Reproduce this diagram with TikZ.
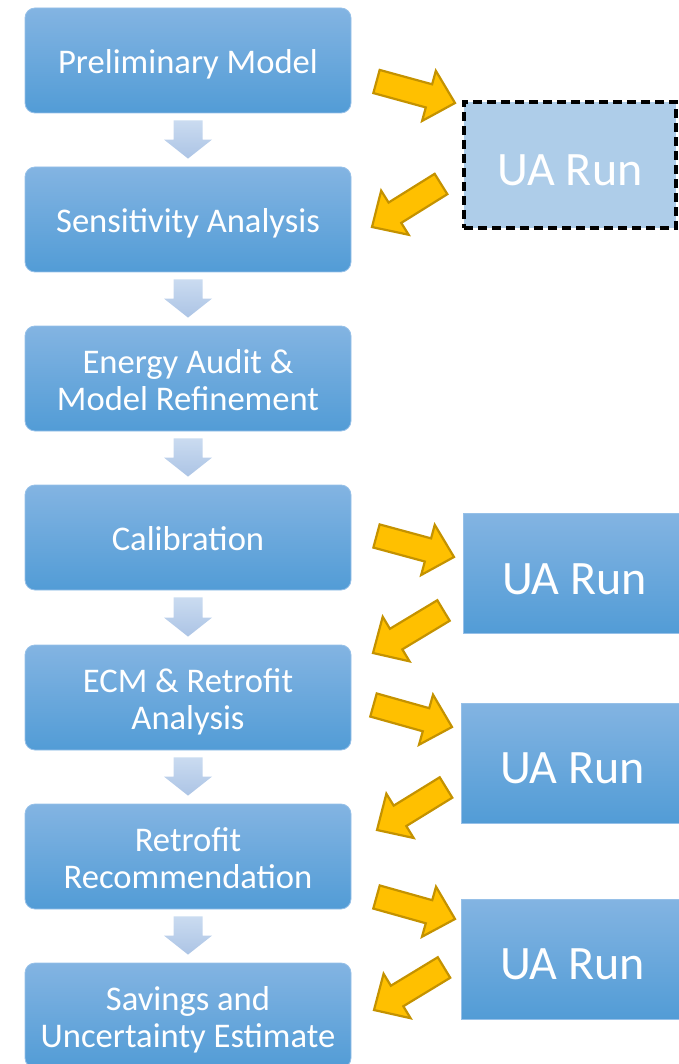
\documentclass[tikz,border=0pt]{standalone}
\usepackage{fontspec}
\setmainfont{Carlito}
\usetikzlibrary{calc}
\definecolor{boxtop}{RGB}{131,180,226}
\definecolor{boxbot}{RGB}{82,156,214}
\definecolor{boxline}{RGB}{150,192,232}
\definecolor{uafill}{RGB}{174,205,233}
\definecolor{darrtop}{RGB}{202,219,240}
\definecolor{darrbot}{RGB}{172,196,229}
\definecolor{yfill}{RGB}{255,192,0}
\definecolor{yline}{RGB}{196,146,0}
\newcommand{\yarrow}[2]{%
  \coordinate (#1-base) at ($(#2)!27pt!(#1)$);
  \draw[yarr] ($(#1)!12pt!90:(#2)$) -- ($(#1-base)!12pt!90:(#2)$) -- ($(#1-base)!26pt!90:(#2)$) -- (#2)
    -- ($(#1-base)!26pt!-90:(#2)$) -- ($(#1-base)!12pt!-90:(#2)$) -- ($(#1)!12pt!-90:(#2)$) -- cycle;}
\newcommand{\downarr}[2]{%
  \path[downarr] let \p1=(#1.south), \p2=(#2.north) in
   (\x1-14.5pt,\y1-7pt) -- (\x1+14.5pt,\y1-7pt) -- (\x1+14.5pt,\y2+27pt) -- (\x1+24pt,\y2+27pt)
   -- (\x1,\y2+8pt) -- (\x1-24pt,\y2+27pt) -- (\x1-14.5pt,\y2+27pt) -- cycle;}
\begin{document}
\begin{tikzpicture}[x=1pt,y=-1pt,
  stepbox/.style={rectangle, rounded corners=10pt, minimum width=326pt, minimum height=105pt,
    top color=boxtop, bottom color=boxbot, draw=boxline, line width=0.8pt, text=white,
    align=center, font=\fontsize{34.6}{36.5}\selectfont, inner sep=0pt},
  oneline/.style={text height=26pt, text depth=0pt},
  twoline/.style={text height=63pt, text depth=0pt},
  uabox/.style={rectangle, minimum width=223pt, minimum height=120pt, top color=boxtop,
    bottom color=boxbot, draw=boxline, line width=0.8pt, text=white,
    font=\fontsize{48}{50}\selectfont, text height=41pt, text depth=0pt, inner sep=0pt},
  uadash/.style={rectangle, minimum width=212pt, minimum height=126pt, fill=uafill, draw=black,
    line width=3.2pt, dash pattern=on 9pt off 5pt, text=white,
    font=\fontsize{48}{50}\selectfont, text height=41pt, text depth=0pt, inner sep=0pt},
  downarr/.style={top color=darrtop, bottom color=darrbot, draw=none},
  yarr/.style={fill=yfill, draw=yline, line width=2.2pt, line join=miter}]
\useasboundingbox (0,0) rectangle (679,1064);
\clip (0,0) rectangle (679,1064);
% left steps
\node[stepbox, oneline] (b1) at (188,60.5) {Preliminary Model};
\node[stepbox, oneline] (b2) at (188,219.5) {Sensitivity Analysis};
\node[stepbox, twoline] (b3) at (188,378.5) {Energy Audit \&\\Model Refinement};
\node[stepbox, oneline] (b4) at (188,537.5) {Calibration};
\node[stepbox, twoline] (b5) at (188,697.5) {ECM \& Retrofit\\Analysis};
\node[stepbox, twoline] (b6) at (188,856.5) {Retrofit\\Recommendation};
\node[stepbox, twoline] (b7) at (188,1015.5) {Savings and\\Uncertainty Estimate};
% UA boxes
\node[uadash] (u1) at (570,165) {UA Run};
\node[uabox] (u2) at (574.5,573.5) {UA Run};
\node[uabox] (u3) at (572.5,763) {UA Run};
\node[uabox] (u4) at (572.5,959) {UA Run};
% down arrows
\downarr{b1}{b2}
\downarr{b2}{b3}
\downarr{b3}{b4}
\downarr{b4}{b5}
\downarr{b5}{b6}
\downarr{b6}{b7}
% yellow arrow end points
\coordinate (r1t) at (376.5,81.5);  \coordinate (r1h) at (455,103);
\coordinate (l1t) at (441,184);     \coordinate (l1h) at (372,227);
\coordinate (r2t) at (376.5,536);   \coordinate (r2h) at (454,557);
\coordinate (l2t) at (443.5,610.5); \coordinate (l2h) at (373,653);
\coordinate (r3t) at (373.5,705);   \coordinate (r3h) at (452,727);
\coordinate (l3t) at (446,787.5);   \coordinate (l3h) at (377,830);
\coordinate (r4t) at (376.5,897);   \coordinate (r4h) at (455,919);
\coordinate (l4t) at (444,967.5);   \coordinate (l4h) at (374,1010);
\yarrow{r1t}{r1h}
\yarrow{l1t}{l1h}
\yarrow{r2t}{r2h}
\yarrow{l2t}{l2h}
\yarrow{r3t}{r3h}
\yarrow{l3t}{l3h}
\yarrow{r4t}{r4h}
\yarrow{l4t}{l4h}
\end{tikzpicture}
\end{document}
